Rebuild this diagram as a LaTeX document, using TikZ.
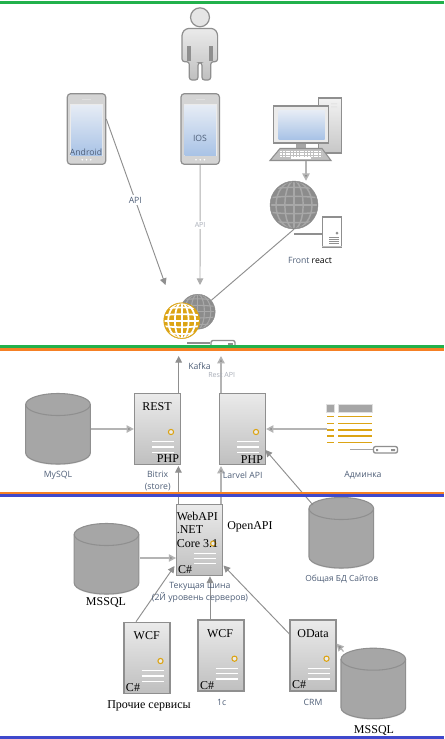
\documentclass[tikz,border=0pt]{standalone}
\usepackage{fontspec}
\setmainfont{Liberation Serif}
\newfontfamily\lblfont{Open Sans}
\usetikzlibrary{arrows.meta,calc}
\definecolor{edgec}{HTML}{8F8F8F}
\definecolor{lightc}{HTML}{B4B4B4}
\definecolor{lblc}{HTML}{4F5F78}
\definecolor{paleL}{HTML}{A9AEB8}
\definecolor{goldc}{HTML}{DCA414}
\definecolor{cyl}{HTML}{A6A6A6}
\definecolor{globec}{HTML}{8C8C8C}
\definecolor{globel}{HTML}{A8A8A8}
\definecolor{screentop}{HTML}{E6ECF5}
\definecolor{screenbot}{HTML}{A9C3E6}
\definecolor{greenb}{HTML}{22B14C}
\definecolor{orangeb}{HTML}{F58025}
\definecolor{blueb}{HTML}{3F48CC}
\tikzset{
  lbl/.style={font=\lblfont\fontsize{6.5}{9}\selectfont,text=lblc,inner sep=0pt,align=center},
  palelbl/.style={font=\lblfont\fontsize{5.3}{7}\selectfont,text=paleL,inner sep=1pt,fill=white},
  apilbl/.style={font=\lblfont\fontsize{6.5}{8}\selectfont,text=lblc,inner sep=1.5pt,fill=white},
  ser/.style={font=\fontsize{9}{10.5}\selectfont,text=black,inner sep=0pt,align=left},
  srvbox/.style={draw=edgec,line width=.9pt,top color=black!8,bottom color=black!25,minimum width=34.5pt,minimum height=53.25pt,inner sep=0pt},
  dark/.style={draw=edgec,line width=.7pt,-{Triangle[length=5pt,width=5pt]}},
  light/.style={draw=lightc,line width=1.1pt,-{Triangle[length=5.5pt,width=5.5pt,fill=edgec]}},
  plain/.style={draw=edgec,line width=.7pt},
  band/.style={line width=2.2pt}
}
% server: name, left, top
\newcommand\srv[3]{%
  \node[srvbox] (#1) at (#2+23,#3+35.5) {};
  \begin{scope}[shift={(#2,#3)}]
    \draw[goldc,line width=.8pt,fill=black!8] (36.5,38.7) circle[radius=2.6];
    \foreach \yy in {48.3,53.7,59} \draw[white,line width=.9pt] (17.5,\yy) -- (39.5,\yy);
  \end{scope}}
% cylinder: name, left, top
\newcommand\cylin[3]{%
  \node[minimum width=48.5pt,minimum height=54pt,inner sep=0pt] (#1) at (#2+32.3,#3+36) {};
  \begin{scope}[shift={(#2,#3)}]
    \fill[black!12] (0,13) -- (0,61) arc[start angle=180,end angle=0,x radius=32.3,y radius=11] -- (64.6,13) -- cycle;
    \draw[edgec,line width=.8pt,fill=cyl] (0,11.5) -- (0,60) arc[start angle=180,end angle=0,x radius=32.3,y radius=11] -- (64.6,11.5)
       arc[start angle=0,end angle=-180,x radius=32.3,y radius=11] -- cycle;
    \draw[edgec,line width=.8pt] (0,11.5) arc[start angle=180,end angle=0,x radius=32.3,y radius=11];
  \end{scope}}
% phone: name, left, top
\newcommand\phone[3]{%
  \node[draw=edgec,line width=.9pt,rounded corners=2.5pt,fill=black!17,minimum width=28.8pt,minimum height=53pt,inner sep=0pt] (#1) at (#2+19.2,#3+35.3) {};
  \begin{scope}[shift={(#2,#3)}]
    \fill[white!92!black] (2.6,9.8) rectangle (35.9,62.5);
    \shade[top color=screentop,bottom color=screenbot] (3.7,11.3) rectangle (34.8,61.3);
    \fill[white!88!black] (15,5.5) rectangle (23.5,6.7);
    \foreach \xx in {15,19.2,23.4} \fill[white] (\xx,66) circle[radius=.9];
  \end{scope}}
% globe: name, cx, cy, r, fill, line, width
\newcommand\globe[7]{%
  \node[circle,fill=#5,draw=#5,line width=.3pt,minimum size=#4*1.5pt,inner sep=0pt] (#1) at (#2,#3) {};
  \begin{scope}[shift={(#2,#3)},x=#4*.75pt,y=#4*.75pt]
    \begin{scope}
      \clip (0,0) circle[radius=.95];
      \draw[#6,line width=#7] (0,-1) -- (0,1);
      \draw[#6,line width=#7] (0,0) ellipse[x radius=.38,y radius=1];
      \draw[#6,line width=#7] (0,0) ellipse[x radius=.75,y radius=1];
      \draw[#6,line width=#7] (-1,0) -- (1,0);
      \draw[#6,line width=#7] (-1,.3) .. controls (-.4,.38) and (.4,.38) .. (1,.3);
      \draw[#6,line width=#7] (-1,-.3) .. controls (-.4,-.38) and (.4,-.38) .. (1,-.3);
      \draw[#6,line width=#7] (-1,.66) .. controls (-.4,.76) and (.4,.76) .. (1,.66);
      \draw[#6,line width=#7] (-1,-.66) .. controls (-.4,-.76) and (.4,-.76) .. (1,-.66);
    \end{scope}
  \end{scope}}
% pill: name, cx, cy, w, h
\newcommand\pill[5]{%
  \node[draw=edgec,line width=1pt,fill=white,rounded corners=1.5pt,minimum width=#4*.75pt,minimum height=#5*.75pt,inner sep=0pt] (#1) at (#2,#3) {};}
\begin{document}
\begin{tikzpicture}[x=.75pt,y=-.75pt]
\useasboundingbox (0,0) rectangle (444,739);
\fill[white] (0,0) rectangle (444,739);

% person
\node[circle,draw=edgec,line width=.9pt,fill=black!10,minimum size=14.2pt,inner sep=0pt] (head) at (200,17.3) {};
\node[minimum width=27pt,minimum height=39pt,inner sep=0pt] (person) at (200,54) {};
\draw[edgec,line width=.9pt,top color=black!8,bottom color=black!25,rounded corners=2pt]
  (186,28.5) -- (214,28.5) -- (217.6,33) -- (217.6,61.7) -- (210.7,61.7) -- (210.7,80) -- (202,80) -- (202,62.7) -- (198,62.7) -- (198,80) -- (189.3,80) -- (189.3,61.7) -- (182,61.7) -- (182,33) -- cycle;
\draw[edgec,line width=.9pt] (188,61) -- (188,46.5) -- (190,46.5) -- (190,61);
\draw[edgec,line width=.9pt] (212,61) -- (212,46.5) -- (210,46.5) -- (210,61);

% phones
\phone{android}{67.3}{93.7}
\phone{ios}{181}{93.7}
\node[lbl,text=lblc] (androidt) at (86,152) {Android};
\node[lbl] (iost) at (200,138) {IOS};

% computer
\node[draw=edgec,line width=.9pt,top color=black!5,bottom color=black!22,minimum width=17.5pt,minimum height=41.2pt,inner sep=0pt] (tower) at (330,125.5) {};
\fill[white!90!black] (331,103) rectangle (337,104.3) (331,106.2) rectangle (337,107.5);
\fill[black!35] (296,143) rectangle (306,148.5);
\fill[white] (306,143) rectangle (318,148);
\node[draw=edgec,line width=.9pt,fill=black!8,minimum width=41.2pt,minimum height=27.8pt,inner sep=0pt] (monitor) at (301.2,124.5) {};
\shade[top color=screentop,bottom color=screenbot] (278.5,110.5) rectangle (324.5,139);
\draw[edgec,line width=.8pt,fill=black!25] (280,148.5) -- (322,148.5) -- (331,160.5) -- (270,160.5) -- cycle;
\foreach \yy in {151.5,154,156.5} \draw[white,line width=1.1pt,dash pattern=on 1.5pt off .6pt] (280,\yy) -- (322,\yy);
\draw[white,line width=1.5pt] (291,157.6) -- (311,157.6);
\coordinate (pcout) at (306,160.5);

\globe{gfront}{294}{205}{24}{globec}{globel}{1.1pt}
\node[draw=edgec,line width=.9pt,fill=white,minimum width=14.8pt,minimum height=22.5pt,inner sep=0pt] (front) at (332,232) {};
\fill[black!25] (322.3,245.5) rectangle (342,247);
\fill[edgec] (337,233) circle[radius=1.5];
\foreach \yy in {237.5,239.5,241.5,243.5} \draw[edgec,line width=.7pt] (329,\yy) -- (339,\yy);
\node[lbl] (frontt) at (310,260) {Front {\color{black}react}};
\draw[plain,line width=.8pt] (294,234) -- (front.west |- 294,234);

% hub globes
\pill{hubbox}{223}{345}{24}{9}
\fill[edgec] (228,343) rectangle (233,346);
\coordinate (hubl) at (187,343);
\draw[plain,line width=.9pt] (hubl) -- (hubbox.west |- hubl);
\globe{ghub}{197.7}{311.7}{17.5}{globec}{globel}{.8pt}
\globe{gold}{181.7}{320.7}{18}{goldc}{white}{1.3pt}

% servers and data
\srv{bitrix}{134.5}{393.3}
\srv{larvel}{219.5}{393.3}
\srv{webapi}{176.7}{504.8}
\srv{wcfa}{124}{622.3}
\srv{wcfb}{198}{620}
\srv{odata}{290}{620}
\cylin{mysql}{25.7}{393}
\cylin{mssqla}{74.2}{523}
\cylin{shared}{309}{497}
\cylin{mssqlb}{341}{647.7}

% admin
\node[minimum width=34pt,minimum height=30pt,inner sep=0pt] (admin) at (349.5,424) {};
\fill[cyl] (326.7,404.3) rectangle (334.3,412) (338,404.3) rectangle (372,412);
\draw[black!12,line width=.6pt] (326.7,404.3) rectangle (334.3,412) (338,404.3) rectangle (372,412);
\foreach \yy in {416.7,423.3,430,436,442.3}
  \draw[goldc,line width=.9pt] (327,\yy) -- (334,\yy) (338,\yy) -- (372,\yy);
\pill{adminbox}{385.5}{449.8}{24}{6.5}
\fill[edgec] (376,449) rectangle (378,451) (391,449) rectangle (395,451);
\coordinate (adminl) at (350,449.8);
\draw[draw=edgec!80,line width=1pt] (adminl) -- (adminbox.west |- adminl);

% connectors
\coordinate (hubin) at (165.5,285);
\coordinate (hubio) at (200,285);
\draw[dark] (android.east |- 0,119) -- (hubin) node[apilbl,pos=.49] (apia) {API};
\draw[dark,draw=lightc!80!edgec] (ios.south) -- (hubio) node[palelbl,pos=.5] (apib) {API};
\draw[light] (pcout) -- (gfront.north -| pcout);
\draw[plain] (gfront.south) -- (ghub.40);

\coordinate (kafkaup) at (178.7,356);
\coordinate (restup) at (221,356);
\draw[dark,line width=.8pt] (bitrix.north -| kafkaup) -- (kafkaup);
\draw[light] (larvel.north -| restup) -- (restup);
\node[lbl] (kafka) at (199.5,366) {Kafka};
\node[palelbl,fill=none] (rest) at (221.7,375) {Rest API};

\draw[light] (mysql.east |- 0,429) -- (bitrix.west |- 0,429);
\draw[light] (admin.west |- 0,429) -- (larvel.east |- 0,429);
\coordinate (sh1) at (313,505);
\draw[dark] (sh1) -- (265.5,450);
\coordinate (wb) at (178.4,466);
\coordinate (wl) at (221,466);
\draw[dark] (webapi.north -| wb) -- (wb);
\draw[light] (webapi.north -| wl) -- (wl);
\draw[light] (140,558) -- (webapi.west |- 0,558);
\draw[dark] (wcfa.north -| 136,0) -- (174.5,566);
\draw[dark] (wcfb.north -| 210,0) -- (webapi.south -| 210,0);
\draw[dark] (odata.west |- 0,634) -- (223.5,565.5);
\draw[light,line width=.9pt] (343.5,651.5) -- (336.5,643.5);

% labels
\node[lbl] at (58,475) {MySQL};
\node[lbl] at (157.7,481) {Bitrix\\(store)};
\node[lbl] at (242.7,475) {Larvel API};
\node[lbl] at (363,475) {Админка};
\node[lbl,font=\lblfont\fontsize{6.3}{8}\selectfont] at (341.7,579) {Общая БД Сайтов};
\node[lbl] at (200,592) {Текущая шина\\(2Й уровень серверов)};
\node[lbl] at (313,702) {CRM};
\node[lbl] at (221.7,702) {1c};

\node[ser] at (157,407) {REST};
\node[ser] at (168,458.7) {PHP};
\node[ser] at (252,460) {PHP};
\node[ser,anchor=west] at (176.5,516) {WebAPI};
\node[ser,anchor=west] at (176.5,530) {.NET};
\node[ser,anchor=west] at (176.5,544) {Core 3.1};
\node[ser,anchor=west] at (177.8,570) {C\#};
\node[ser,anchor=west] at (227,527) {OpenAPI};
\node[ser] at (106,602) {MSSQL};
\node[ser] at (146.7,636) {WCF};
\node[ser] at (220,634) {WCF};
\node[ser] at (313,634) {OData};
\node[ser] at (133,688) {C\#};
\node[ser] at (207,686) {C\#};
\node[ser] at (299,685) {C\#};
\node[ser] at (149,706) {Прочие сервисы};
\node[ser] at (374,730) {MSSQL};

% bands
\draw[band,greenb] (0,2.5) -- (444,2.5);
\draw[band,greenb] (0,346.7) -- (444,346.7);
\draw[band,orangeb] (0,349.6) -- (444,349.6);
\draw[band,orangeb] (0,493) -- (444,493);
\draw[band,blueb] (0,495.6) -- (444,495.6);
\draw[band,blueb] (0,737.5) -- (444,737.5);
\end{tikzpicture}
\end{document}
